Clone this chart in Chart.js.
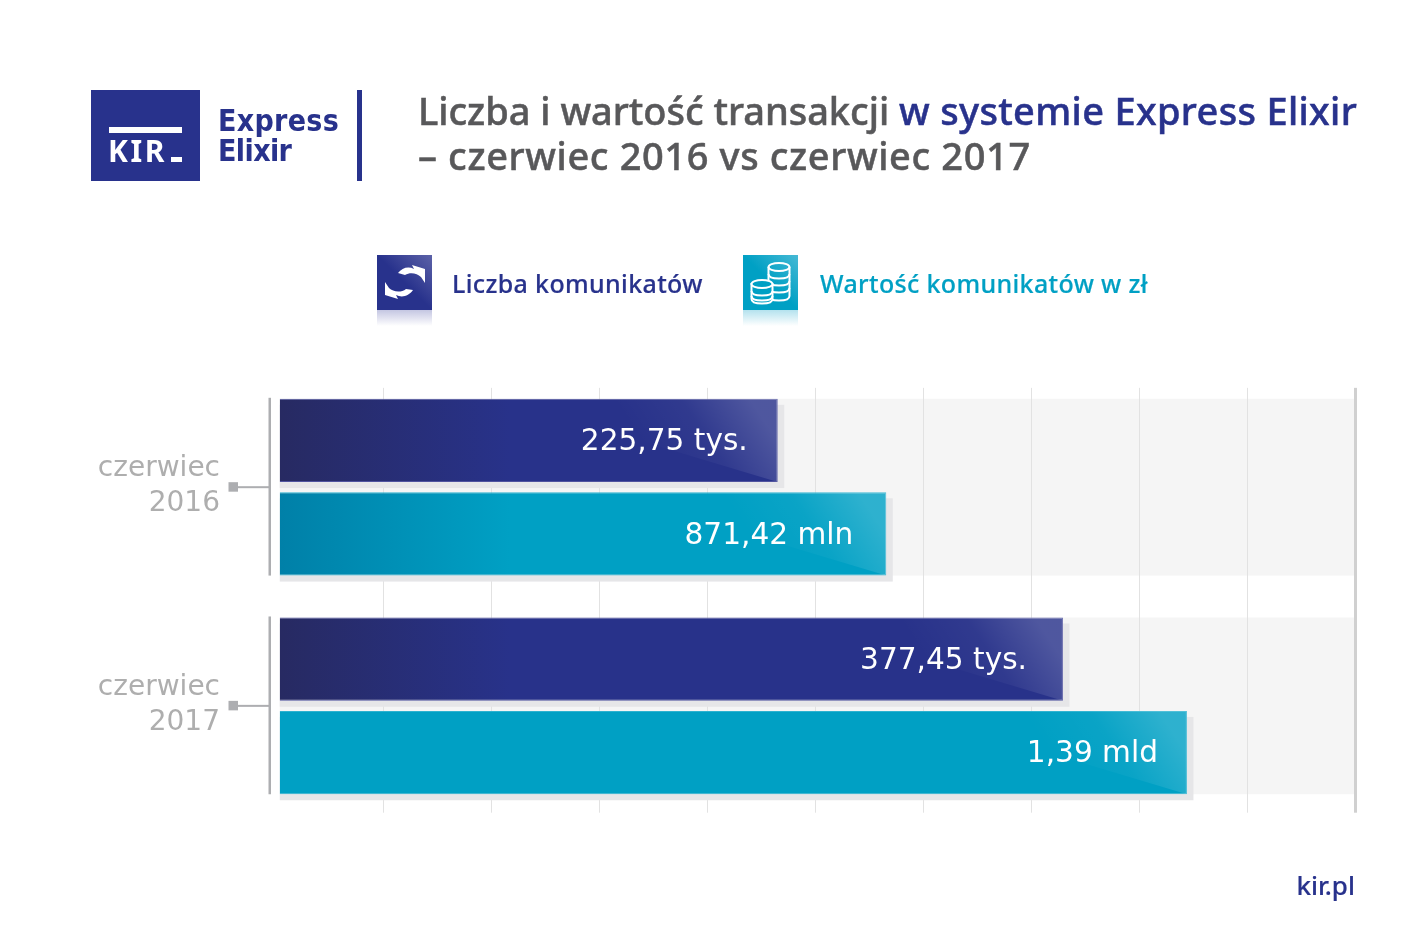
<!DOCTYPE html>
<html lang="pl">
<head>
<meta charset="utf-8">
<title>Liczba i wartość transakcji w systemie Express Elixir</title>
<script src="https://cdn.jsdelivr.net/npm/chart.js@4"></script>
<style>
    html, body { margin: 0; padding: 0; background: #fff; }
    #page { position: relative; width: 1417px; height: 945px; overflow: hidden; font-family: "Noto Sans", sans-serif; }
    #page > * { position: absolute; }
    #chart { left: 0; top: 0; }
    .navy { color: #28328c; }
    .teal { color: #00a0c4; }
    .nowrap { white-space: nowrap; }
    #logoBox { left: 91px; top: 90px; width: 109px; height: 91px; background: #28328c; }
    #logoBar { left: 109px; top: 127px; width: 73px; height: 6px; background: #fff; }
    #logoKir { left: 108px; top: 132px; font: bold 30px/38px "Noto Sans", sans-serif; color: #fff; letter-spacing: 2.6px; }
    #logoDash { left: 171px; top: 157px; width: 11px; height: 5px; background: #fff; }
    #logoExpress { left: 218px; top: 102px; font: bold 30px/38px "DejaVu Sans Condensed", sans-serif; letter-spacing: 0.3px; }
    #logoElixir { left: 218px; top: 132px; font: bold 30px/38px "DejaVu Sans Condensed", sans-serif; letter-spacing: -0.6px; }
    #logoRule { left: 357px; top: 90px; width: 5px; height: 91px; background: #28328c; }
    .title { left: 418px; font-size: 38px; line-height: 46px; font-weight: 500; color: #58585a; -webkit-text-stroke: 0.5px currentColor; }
    .legendText { top: 265px; font-size: 25px; line-height: 36px; font-weight: 500; letter-spacing: 0.35px; -webkit-text-stroke: 0.2px currentColor; }
    #kirpl { right: 62px; top: 867px; font-size: 26px; line-height: 36px; font-weight: 500; -webkit-text-stroke: 0.2px currentColor; }
</style>
</head>
<body>
<div id="page">
    <canvas id="chart" width="1417" height="945"></canvas>

    <div id="logoBox"></div>
    <div id="logoBar"></div>
    <div id="logoKir" class="nowrap">KIR</div>
    <div id="logoDash"></div>
    <div id="logoExpress" class="navy nowrap">Express</div>
    <div id="logoElixir" class="navy nowrap">Elixir</div>
    <div id="logoRule"></div>

    <div class="title nowrap" style="top:87px;letter-spacing:-0.03px">Liczba i wartość transakcji <span class="navy" style="letter-spacing:0.33px">w systemie Express Elixir</span></div>
    <div class="title nowrap" style="top:132px;letter-spacing:0.62px">– czerwiec 2016 vs czerwiec 2017</div>

    <!-- legend icons -->
    <svg style="left:377px;top:255px" width="55" height="72" viewBox="0 0 55 72">
        <defs>
            <linearGradient id="iconNavy" x1="0" y1="1" x2="1" y2="0">
                <stop offset="0.5" stop-color="#28328c"/><stop offset="1" stop-color="#5c62a8"/>
            </linearGradient>
            <linearGradient id="reflectNavy" x1="0" y1="0" x2="0" y2="1">
                <stop offset="0" stop-color="#c4c6e2"/><stop offset="1" stop-color="#ffffff"/>
            </linearGradient>
        </defs>
        <rect width="55" height="55" fill="url(#iconNavy)"/>
        <rect y="55" width="55" height="16" fill="url(#reflectNavy)"/>
        <path d="M21 18 C25 13 31 11 37 14 L35 10 L48 14 L48 28 L44 22 C40 18 33 17 28 20 Z" fill="#fff"/>
        <path d="M36 34 C32 40 25 42 19 39 L21 43 L8 39 L8 26 L12 32 C16 36 24 37 29 33 Z" fill="#fff" transform="translate(0,1)"/>
    </svg>
    <svg style="left:743px;top:255px" width="55" height="72" viewBox="0 0 55 72">
        <defs>
            <linearGradient id="iconTeal" x1="0" y1="1" x2="1" y2="0">
                <stop offset="0.5" stop-color="#00a0c4"/><stop offset="1" stop-color="#46b9d5"/>
            </linearGradient>
            <linearGradient id="reflectTeal" x1="0" y1="0" x2="0" y2="1">
                <stop offset="0" stop-color="#b4e2ee"/><stop offset="1" stop-color="#ffffff"/>
            </linearGradient>
        </defs>
        <rect width="55" height="55" fill="url(#iconTeal)"/>
        <rect y="55" width="55" height="16" fill="url(#reflectTeal)"/>
        <g fill="none" stroke="#fff" stroke-width="2">
            <ellipse cx="36" cy="12" rx="10.5" ry="4"/>
            <path d="M25.5 12 V41 C25.5 44 30 45.5 36 45.5 C42 45.5 46.5 44 46.5 41 V12"/>
            <path d="M25.5 19 C25.5 22 30 23.5 36 23.5 C42 23.5 46.5 22 46.5 19"/>
            <path d="M25.5 26 C25.5 29 30 30.5 36 30.5 C42 30.5 46.5 29 46.5 26"/>
            <path d="M25.5 33 C25.5 36 30 37.5 36 37.5 C42 37.5 46.5 36 46.5 33"/>
        </g>
        <g fill="#00a0c4" stroke="#fff" stroke-width="2">
            <path d="M8.5 29 V44 C8.5 47 13 48.5 19 48.5 C25 48.5 29.5 47 29.5 44 V29 Z"/>
            <ellipse cx="19" cy="29" rx="10.5" ry="4"/>
        </g>
        <g fill="none" stroke="#fff" stroke-width="2">
            <path d="M8.5 36 C8.5 39 13 40.5 19 40.5 C25 40.5 29.5 39 29.5 36"/>
            <path d="M8.5 41 C8.5 44 13 45.5 19 45.5 C25 45.5 29.5 44 29.5 41"/>
        </g>
    </svg>

    <div class="legendText navy nowrap" style="left:452px">Liczba komunikatów</div>
    <div class="legendText teal nowrap" style="left:820px">Wartość komunikatów w zł</div>

    <div id="kirpl" class="navy nowrap">kir.pl</div>
</div>

<script>
// --- Data ---
const categories = [['czerwiec', '2016'], ['czerwiec', '2017']];
const seriesNames = ['Liczba komunikatów', 'Wartość komunikatów w zł'];
// bar lengths (one unit = one grid step)
const liczbaValues = [4.655, 7.296];
const wartoscValues = [5.66, 8.444];
const liczbaLabels = ['225,75 tys.', '377,45 tys.'];
const wartoscLabels = ['871,42 mln', '1,39 mld'];
const gridTicks = [0, 1, 2, 3, 4, 5, 6, 7, 8, 9, 10];

// --- Styles ---
const barBase = 0.044;
const navyLeft = ['#272a62', '#272a62'];
const tealLeft = ['#0080a8', '#00a0c4'];
const navyMain = '#28328a';
const tealMain = '#00a0c4';
const labelInset = [[30, 36], [33, 29]]; // per dataset, per bar
const shadowColor = '#e6e6e8';
const bracketColor = '#adaeb1';

function barFill(context, leftColors, mainColor) {
    const chart = context.chart;
    const x0 = chart.scales.x ? chart.scales.x.getPixelForValue(barBase) : NaN;
    // scales have no size yet on the first pass
    if (!Number.isFinite(x0)) return mainColor;
    const g = chart.ctx.createLinearGradient(x0, 0, x0 + 230, 0);
    g.addColorStop(0, leftColors[context.dataIndex]);
    g.addColorStop(1, mainColor);
    return g;
}

// --- Plugin: grey bands, shadows, brackets, sheen and value labels ---
const decorations = {
    id: 'decorations',
    beforeDraw(chart) {
        const { ctx, scales } = chart;
        const a = chart.getDatasetMeta(0).data;
        const b = chart.getDatasetMeta(1).data;
        ctx.save();
        ctx.fillStyle = '#f5f5f5';
        a.forEach((bar, i) => {
            const top = bar.y - bar.height / 2;
            const bottom = b[i].y + b[i].height / 2;
            ctx.fillRect(bar.base, top, scales.x.right - bar.base, bottom - top);
        });
        ctx.restore();
    },
    beforeDatasetsDraw(chart) {
        const { ctx, chartArea } = chart;
        const a = chart.getDatasetMeta(0).data;
        const b = chart.getDatasetMeta(1).data;
        ctx.save();
        // grid lines stop short of the plot edges
        ctx.fillStyle = '#fff';
        ctx.fillRect(chartArea.left, chartArea.top - 1, chartArea.width + 4, 11);
        ctx.fillRect(chartArea.left, chartArea.bottom - 2.5, chartArea.width + 4, 4);
        // bar shadows
        ctx.fillStyle = shadowColor;
        [a, b].forEach(bars => bars.forEach(bar => {
            const top = bar.y - bar.height / 2;
            ctx.fillRect(bar.base, top + 6, bar.x - bar.base + 6.5, bar.height);
        }));
        // brackets next to the category labels
        ctx.fillStyle = bracketColor;
        a.forEach((bar, i) => {
            const top = bar.y - bar.height / 2;
            const bottom = b[i].y + b[i].height / 2;
            const mid = (top + bottom) / 2;
            ctx.fillRect(268.5, top - 1, 2.5, bottom - top + 1);
            ctx.fillRect(238, mid - 1, 31, 2);
            ctx.fillRect(228.5, mid - 5, 9.5, 9.5);
        });
        ctx.restore();
    },
    afterDatasetsDraw(chart) {
        const { ctx } = chart;
        [liczbaLabels, wartoscLabels].forEach((labels, d) => {
            chart.getDatasetMeta(d).data.forEach((bar, i) => {
                const top = bar.y - bar.height / 2;
                const bottom = bar.y + bar.height / 2;
                // corner sheen, cut off by a diagonal running up from the bottom right corner
                ctx.save();
                ctx.beginPath();
                ctx.moveTo(bar.x, bottom);
                ctx.lineTo(bar.x - 200, bottom - 60);
                ctx.lineTo(bar.x - 200, top);
                ctx.lineTo(bar.x, top);
                ctx.closePath();
                ctx.clip();
                const g = ctx.createLinearGradient(bar.x - 110, bottom, bar.x - 15, top + 20);
                g.addColorStop(0, 'rgba(255,255,255,0)');
                g.addColorStop(0.5, 'rgba(255,255,255,0.04)');
                g.addColorStop(1, 'rgba(255,255,255,0.18)');
                ctx.fillStyle = g;
                ctx.fillRect(bar.x - 200, top, 200, bar.height);
                ctx.restore();
                // value label
                ctx.save();
                ctx.fillStyle = '#fff';
                ctx.font = '29.6px "DejaVu Sans"';
                ctx.textAlign = 'right';
                ctx.textBaseline = 'middle';
                ctx.fillText(labels[i], bar.x - labelInset[d][i], bar.y + 2);
                ctx.restore();
            });
        });
    }
};

// --- Chart ---
new Chart(document.getElementById('chart').getContext('2d'), {
    type: 'bar',
    plugins: [decorations],
    data: {
        labels: categories,
        datasets: [
            {
                label: seriesNames[0],
                data: liczbaValues,
                base: barBase,
                backgroundColor: c => barFill(c, navyLeft, navyMain),
                borderColor: '#50539f',
                borderWidth: 1
            },
            {
                label: seriesNames[1],
                data: wartoscValues,
                base: barBase,
                backgroundColor: c => barFill(c, tealLeft, tealMain),
                borderColor: '#2cb2d0',
                borderWidth: 1
            }
        ]
    },
    options: {
        indexAxis: 'y',
        responsive: false,
        animation: false,
        categoryPercentage: 0.855,
        barPercentage: 0.891,
        layout: { padding: { top: 377.85, bottom: 129.8, left: 0, right: 62 } },
        plugins: {
            legend: { display: false },
            title: { display: false },
            tooltip: { enabled: false }
        },
        scales: {
            x: {
                type: 'linear',
                min: 0,
                max: 10,
                afterBuildTicks: scale => { scale.ticks = gridTicks.map(value => ({ value })); },
                ticks: { display: false },
                border: { display: false },
                grid: {
                    drawTicks: false,
                    color: c => c.tick.value === 0 ? 'rgba(0,0,0,0)' : (c.tick.value === 10 ? '#d0d0d0' : '#e2e2e2'),
                    lineWidth: c => c.tick.value === 10 ? 3 : 1
                }
            },
            y: {
                afterFit: scale => { scale.width = 275; },
                border: { display: false },
                grid: { display: false, drawTicks: false },
                ticks: {
                    color: '#aeaeae',
                    font: { family: '"DejaVu Sans"', size: 28, lineHeight: 1.25 },
                    crossAlign: 'near',
                    padding: 55,
                    labelOffset: -1
                }
            }
        }
    }
});
</script>
</body>
</html>
